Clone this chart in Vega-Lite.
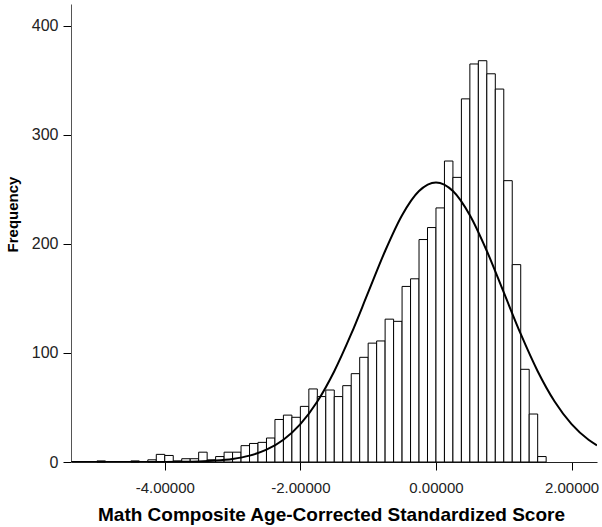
{
  "$schema": "https://vega.github.io/schema/vega-lite/v6.json",
  "width": 526,
  "height": 458,
  "autosize": {"type": "none"},
  "padding": {"left": 71, "top": 4, "right": 5, "bottom": 65},
  "background": "white",
  "config": {"view": {"stroke": null}, "font": "Liberation Sans"},
  "datasets": {
    "bins": [
      {"bin_start": -5.0, "bin_end": -4.875, "count": 1},
      {"bin_start": -4.5, "bin_end": -4.375, "count": 1},
      {"bin_start": -4.25, "bin_end": -4.125, "count": 2},
      {"bin_start": -4.125, "bin_end": -4.0, "count": 7},
      {"bin_start": -4.0, "bin_end": -3.875, "count": 6},
      {"bin_start": -3.875, "bin_end": -3.75, "count": 1},
      {"bin_start": -3.75, "bin_end": -3.625, "count": 3},
      {"bin_start": -3.625, "bin_end": -3.5, "count": 3},
      {"bin_start": -3.5, "bin_end": -3.375, "count": 9},
      {"bin_start": -3.375, "bin_end": -3.25, "count": 2},
      {"bin_start": -3.25, "bin_end": -3.125, "count": 5},
      {"bin_start": -3.125, "bin_end": -3.0, "count": 9},
      {"bin_start": -3.0, "bin_end": -2.875, "count": 9},
      {"bin_start": -2.875, "bin_end": -2.75, "count": 15},
      {"bin_start": -2.75, "bin_end": -2.625, "count": 17},
      {"bin_start": -2.625, "bin_end": -2.5, "count": 18},
      {"bin_start": -2.5, "bin_end": -2.375, "count": 22},
      {"bin_start": -2.375, "bin_end": -2.25, "count": 39},
      {"bin_start": -2.25, "bin_end": -2.125, "count": 43},
      {"bin_start": -2.125, "bin_end": -2.0, "count": 41},
      {"bin_start": -2.0, "bin_end": -1.875, "count": 51},
      {"bin_start": -1.875, "bin_end": -1.75, "count": 67},
      {"bin_start": -1.75, "bin_end": -1.625, "count": 60},
      {"bin_start": -1.625, "bin_end": -1.5, "count": 66},
      {"bin_start": -1.5, "bin_end": -1.375, "count": 60},
      {"bin_start": -1.375, "bin_end": -1.25, "count": 70},
      {"bin_start": -1.25, "bin_end": -1.125, "count": 81},
      {"bin_start": -1.125, "bin_end": -1.0, "count": 96},
      {"bin_start": -1.0, "bin_end": -0.875, "count": 109},
      {"bin_start": -0.875, "bin_end": -0.75, "count": 111},
      {"bin_start": -0.75, "bin_end": -0.625, "count": 131},
      {"bin_start": -0.625, "bin_end": -0.5, "count": 129},
      {"bin_start": -0.5, "bin_end": -0.375, "count": 161},
      {"bin_start": -0.375, "bin_end": -0.25, "count": 168},
      {"bin_start": -0.25, "bin_end": -0.125, "count": 204},
      {"bin_start": -0.125, "bin_end": 0.0, "count": 215},
      {"bin_start": 0.0, "bin_end": 0.125, "count": 233},
      {"bin_start": 0.125, "bin_end": 0.25, "count": 276},
      {"bin_start": 0.25, "bin_end": 0.375, "count": 261},
      {"bin_start": 0.375, "bin_end": 0.5, "count": 333},
      {"bin_start": 0.5, "bin_end": 0.625, "count": 365},
      {"bin_start": 0.625, "bin_end": 0.75, "count": 368},
      {"bin_start": 0.75, "bin_end": 0.875, "count": 356},
      {"bin_start": 0.875, "bin_end": 1.0, "count": 342},
      {"bin_start": 1.0, "bin_end": 1.125, "count": 258},
      {"bin_start": 1.125, "bin_end": 1.25, "count": 181},
      {"bin_start": 1.25, "bin_end": 1.375, "count": 85},
      {"bin_start": 1.375, "bin_end": 1.5, "count": 44},
      {"bin_start": 1.5, "bin_end": 1.625, "count": 5}
    ],
    "curve": [
      {"x": -5.38, "density": 0},
      {"x": -5.0, "density": 0.001},
      {"x": -4.75, "density": 0.003},
      {"x": -4.5, "density": 0.01},
      {"x": -4.25, "density": 0.03},
      {"x": -4.0, "density": 0.086},
      {"x": -3.75, "density": 0.23},
      {"x": -3.5, "density": 0.56},
      {"x": -3.25, "density": 1.31},
      {"x": -3.0, "density": 2.85},
      {"x": -2.75, "density": 5.84},
      {"x": -2.5, "density": 11.27},
      {"x": -2.25, "density": 20.4},
      {"x": -2.0, "density": 34.7},
      {"x": -1.75, "density": 55.45},
      {"x": -1.5, "density": 83.24},
      {"x": -1.25, "density": 117.4},
      {"x": -1.0, "density": 155.5},
      {"x": -0.75, "density": 193.5},
      {"x": -0.5, "density": 226.3},
      {"x": -0.25, "density": 248.5},
      {"x": 0.0, "density": 256.4},
      {"x": 0.25, "density": 248.5},
      {"x": 0.5, "density": 226.3},
      {"x": 0.75, "density": 193.5},
      {"x": 1.0, "density": 155.5},
      {"x": 1.25, "density": 117.4},
      {"x": 1.5, "density": 83.24},
      {"x": 1.75, "density": 55.45},
      {"x": 2.0, "density": 34.7},
      {"x": 2.25, "density": 20.4},
      {"x": 2.375, "density": 15.28}
    ]
  },
  "layer": [
    {
      "data": {"name": "bins"},
      "mark": {"type": "bar", "fill": "white", "stroke": "black", "strokeWidth": 1},
      "encoding": {
        "x": {
          "field": "bin_start",
          "type": "quantitative",
          "scale": {"domain": [-5.383, 2.375], "nice": false, "zero": false},
          "axis": {
            "title": "Math Composite Age-Corrected Standardized Score",
            "values": [-4, -2, 0, 2],
            "labelExpr": "(datum.value < 0 ? '-' : '') + format(abs(datum.value), '.5f')",
            "grid": false,
            "domainColor": "#222",
            "tickColor": "black",
            "tickSize": 8,
            "labelFontSize": 15,
            "labelColor": "#222",
            "labelPadding": 10,
            "titleFontSize": 19,
            "titleFontWeight": "bold",
            "titleColor": "black",
            "titleBaseline": "alphabetic",
            "titleAlign": "center",
            "titleX": 260,
            "titleY": 58
          }
        },
        "x2": {"field": "bin_end"},
        "y": {
          "field": "count",
          "type": "quantitative",
          "scale": {"domain": [0, 420], "nice": false},
          "axis": {
            "title": "Frequency",
            "values": [0, 100, 200, 300, 400],
            "grid": false,
            "domainColor": "#555",
            "tickColor": "black",
            "tickSize": 8,
            "labelFontSize": 16,
            "labelColor": "#222",
            "labelPadding": 5,
            "titleFontSize": 15,
            "titleFontWeight": "bold",
            "titleColor": "black",
            "titleBaseline": "alphabetic",
            "titleAlign": "center",
            "titleAngle": -90,
            "titleX": -54,
            "titleY": 210
          }
        },
        "y2": {"datum": 0}
      }
    },
    {
      "data": {"name": "curve"},
      "mark": {"type": "line", "color": "black", "strokeWidth": 2, "interpolate": "monotone", "clip": true},
      "encoding": {
        "x": {"field": "x", "type": "quantitative"},
        "y": {"field": "density", "type": "quantitative"}
      }
    }
  ]
}
